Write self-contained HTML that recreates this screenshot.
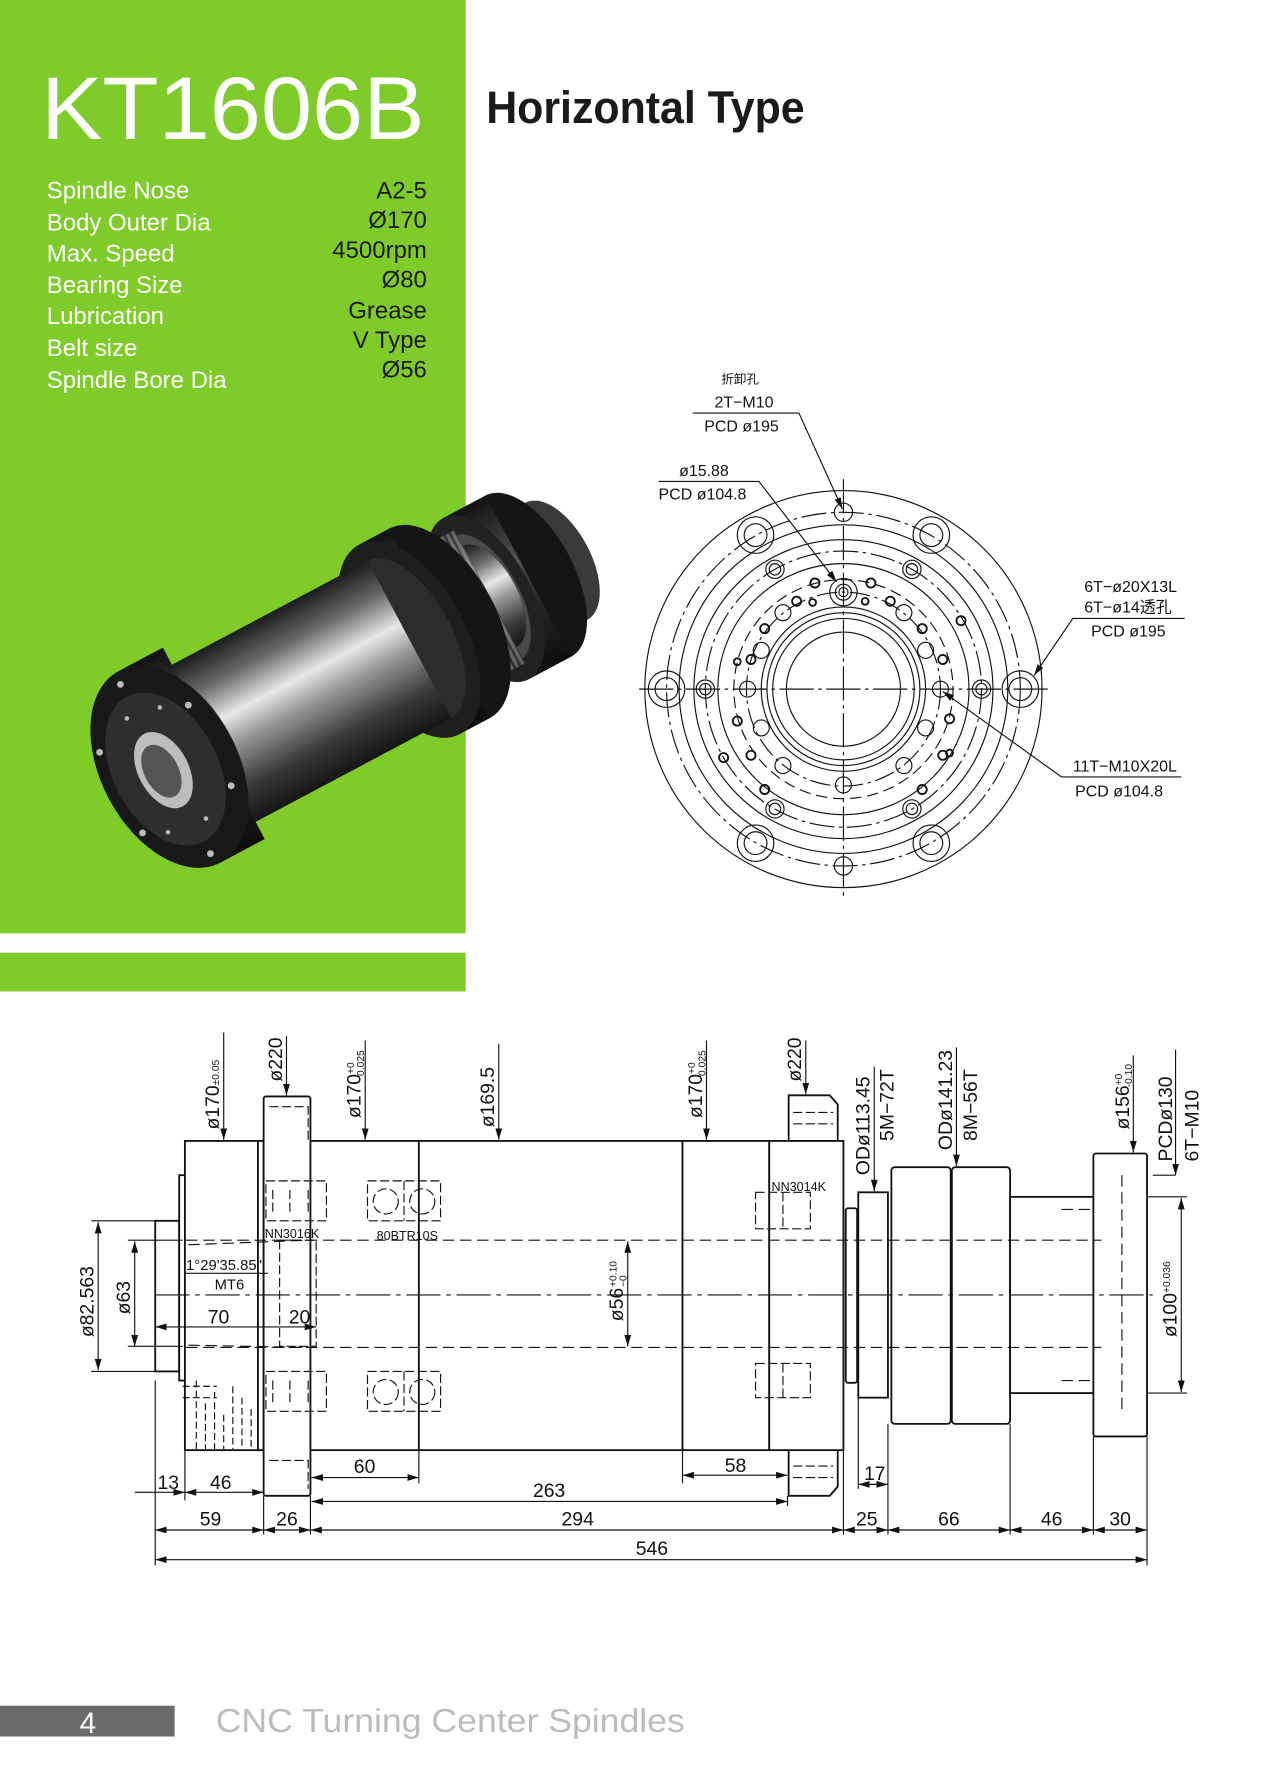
<!DOCTYPE html>
<html><head><meta charset="utf-8"><style>
html,body{margin:0;padding:0;background:#fff;}
svg{display:block}
text{font-family:"Liberation Sans","Noto Sans CJK SC",sans-serif}
.d{font-family:"Liberation Sans Narrow","Liberation Sans","Noto Sans CJK SC",sans-serif;fill:#111}
</style></head><body>
<svg width="1276" height="1789" viewBox="0 0 1118 1568" preserveAspectRatio="none" xmlns="http://www.w3.org/2000/svg">
<defs>
<marker id="a" viewBox="0 0 10 6" refX="10" refY="3" markerWidth="10" markerHeight="6" orient="auto-start-reverse" markerUnits="userSpaceOnUse"><path d="M0,0L10,3L0,6z" fill="#111"/></marker>
<linearGradient id="m" x1="0" y1="0" x2="0" y2="1">
<stop offset="0" stop-color="#1c1c1c"/><stop offset=".2" stop-color="#6a6a6a"/><stop offset=".4" stop-color="#e8e8e8"/><stop offset=".55" stop-color="#9a9a9a"/><stop offset=".8" stop-color="#3a3a3a"/><stop offset="1" stop-color="#151515"/></linearGradient>
<linearGradient id="dk" x1="0" y1="0" x2="0" y2="1">
<stop offset="0" stop-color="#111"/><stop offset=".4" stop-color="#555"/><stop offset=".6" stop-color="#2a2a2a"/><stop offset="1" stop-color="#0d0d0d"/></linearGradient>
<pattern id="g" width="5" height="10" patternUnits="userSpaceOnUse"><rect width="5" height="10" fill="#9a9a9a"/><rect width="2" height="10" fill="#3a3a3a"/></pattern>
</defs>

<rect x="0" y="0" width="408" height="818" fill="#7ecb29"/>
<rect x="0" y="835" width="408" height="34" fill="#7ecb29"/>
<text x="36" y="122" font-size="78" fill="#fff" textLength="336" lengthAdjust="spacingAndGlyphs">KT1606B</text>
<text x="426" y="108" font-size="40" font-weight="bold" fill="#1a1a1a" style="font-family:'Liberation Sans Narrow','Liberation Sans',sans-serif" textLength="279" lengthAdjust="spacingAndGlyphs">Horizontal Type</text>
<g font-size="21" fill="#fff">
<text x="41" y="174">Spindle Nose</text><text x="41" y="202">Body Outer Dia</text><text x="41" y="229">Max. Speed</text><text x="41" y="257">Bearing Size</text><text x="41" y="284">Lubrication</text><text x="41" y="312">Belt size</text><text x="41" y="340">Spindle Bore Dia</text>
</g>
<g font-size="21" fill="#1a1a1a" text-anchor="end">
<text x="374" y="174">A2-5</text><text x="374" y="200">Ø170</text><text x="374" y="226">4500rpm</text><text x="374" y="252">Ø80</text><text x="374" y="279">Grease</text><text x="374" y="305">V Type</text><text x="374" y="331">Ø56</text>
</g>

<!-- spindle photo -->
<g transform="translate(318,582) rotate(-28)">
<!-- rear end -->
<ellipse cx="192" cy="0" rx="30" ry="58" fill="#3a3a3a"/>
<rect x="160" y="-58" width="32" height="116" fill="url(#m)"/>
<!-- rear flange -->
<ellipse cx="164" cy="0" rx="40" ry="80" fill="#151515"/>
<rect x="122" y="-80" width="42" height="160" fill="url(#dk)"/>
<ellipse cx="122" cy="0" rx="40" ry="80" fill="#222"/>
<ellipse cx="122" cy="0" rx="30" ry="62" fill="#4a4a4a"/>
<ellipse cx="126" cy="0" rx="24" ry="50" fill="url(#m)"/>
<!-- gear -->
<rect x="72" y="-66" width="54" height="132" fill="url(#g)"/>
<rect x="72" y="-66" width="54" height="132" fill="url(#m)" opacity=".45"/>
<!-- mid flange -->
<ellipse cx="76" cy="0" rx="50" ry="94" fill="#151515"/>
<rect x="46" y="-94" width="30" height="188" fill="url(#dk)"/>
<ellipse cx="46" cy="0" rx="50" ry="94" fill="#1e1e1e"/>
<ellipse cx="46" cy="0" rx="38" ry="78" fill="#2c2c2c"/>
<!-- body -->
<rect x="-150" y="-78" width="196" height="156" fill="url(#m)"/>
<!-- front flange -->
<rect x="-192" y="-95" width="44" height="190" fill="url(#dk)"/>
<ellipse cx="-192" cy="0" rx="60" ry="95" fill="#181818"/>
<ellipse cx="-196" cy="0" rx="46" ry="72" fill="#2e2e2e"/>
<ellipse cx="-198" cy="0" rx="22" ry="36" fill="#bdbdbd"/>
<ellipse cx="-200" cy="0" rx="15" ry="25" fill="#555"/>
<g fill="#bbb"><circle cx="-196" cy="-84" r="3"/><circle cx="-196" cy="84" r="3"/><circle cx="-240" cy="-40" r="3"/><circle cx="-240" cy="40" r="3"/><circle cx="-152" cy="-40" r="3"/><circle cx="-152" cy="40" r="3"/><circle cx="-205" cy="-55" r="2"/><circle cx="-185" cy="55" r="2"/><circle cx="-220" cy="50" r="2"/><circle cx="-175" cy="-50" r="2"/></g>
</g>

<!-- front view -->
<g fill="none" stroke="#111" stroke-width="1">
<circle cx="739" cy="604" r="174"/>
<circle cx="739" cy="604" r="155" stroke-dasharray="22 4 3 4"/>
<circle cx="739" cy="604" r="144"/>
<circle cx="739" cy="604" r="131"/>
<circle cx="739" cy="604" r="121" stroke-dasharray="22 4 3 4"/>
<circle cx="739" cy="604" r="110"/>
<circle cx="739" cy="604" r="96" stroke-dasharray="10 5"/>
<circle cx="739" cy="604" r="85" stroke-dasharray="18 4 3 4"/>
<circle cx="739" cy="604" r="72"/>
<circle cx="739" cy="604" r="67"/>
<circle cx="739" cy="604" r="62"/>
<circle cx="739" cy="604" r="50"/>
<path d="M560,604H918M739,420V788" stroke-dasharray="30 4 3 4"/>
<g>
<circle cx="894" cy="604" r="16"/><circle cx="894" cy="604" r="10"/>
<circle cx="584" cy="604" r="16"/><circle cx="584" cy="604" r="10"/>
<circle cx="816" cy="469" r="16"/><circle cx="816" cy="469" r="10"/>
<circle cx="662" cy="469" r="16"/><circle cx="662" cy="469" r="10"/>
<circle cx="816" cy="739" r="16"/><circle cx="816" cy="739" r="10"/>
<circle cx="662" cy="739" r="16"/><circle cx="662" cy="739" r="10"/>
<circle cx="739" cy="449" r="8"/><circle cx="739" cy="759" r="8"/>
<circle cx="799" cy="499" r="8"/><circle cx="799" cy="499" r="5"/>
<circle cx="679" cy="499" r="8"/><circle cx="679" cy="499" r="5"/>
<circle cx="799" cy="709" r="8"/><circle cx="799" cy="709" r="5"/>
<circle cx="679" cy="709" r="8"/><circle cx="679" cy="709" r="5"/>
<circle cx="618" cy="604" r="8"/><circle cx="618" cy="604" r="5"/>
<circle cx="860" cy="604" r="8"/><circle cx="860" cy="604" r="5"/>
<circle cx="739" cy="519" r="12"/><circle cx="739" cy="519" r="7"/><circle cx="739" cy="519" r="4"/>
<circle cx="739" cy="688" r="7"/><circle cx="824" cy="604" r="7"/><circle cx="655" cy="604" r="7"/>
<circle cx="686" cy="537" r="7"/><circle cx="792" cy="537" r="7"/><circle cx="686" cy="671" r="7"/><circle cx="792" cy="671" r="7"/>
<circle cx="667" cy="570" r="7"/><circle cx="811" cy="570" r="7"/><circle cx="667" cy="638" r="7"/><circle cx="811" cy="638" r="7"/>
</g>
<g stroke-width="1.6">
<circle cx="714" cy="511" r="4"/><circle cx="763" cy="511" r="4"/><circle cx="698" cy="527" r="4"/><circle cx="780" cy="527" r="4"/>
<circle cx="670" cy="551" r="4"/><circle cx="808" cy="551" r="4"/><circle cx="658" cy="578" r="4"/><circle cx="826" cy="578" r="4"/>
<circle cx="646" cy="632" r="4"/><circle cx="832" cy="630" r="4"/><circle cx="658" cy="662" r="4"/><circle cx="826" cy="662" r="4"/>
<circle cx="670" cy="692" r="4"/><circle cx="808" cy="692" r="4"/><circle cx="634" cy="664" r="4"/><circle cx="842" cy="544" r="4"/>
<circle cx="646" cy="580" r="3"/><circle cx="712" cy="528" r="3"/><circle cx="758" cy="527" r="3"/><circle cx="832" cy="660" r="3"/>
</g>
<path d="M607,362H700L738,446" marker-end="url(#a)"/>
<path d="M577,422H665L733,510" marker-end="url(#a)"/>
<path d="M1038,542H940L906,592" marker-end="url(#a)"/>
<path d="M1035,681H930L826,606" marker-end="url(#a)"/>
</g>
<g class="d" font-size="14">
<text x="632" y="336" font-size="11">折卸孔</text>
<text x="626" y="357">2T−M10</text>
<text x="617" y="378">PCD  ø195</text>
<text x="595" y="417">ø15.88</text>
<text x="577" y="438">PCD  ø104.8</text>
<text x="950" y="519">6T−ø20X13L</text>
<text x="950" y="537">6T−ø14透孔</text>
<text x="956" y="558">PCD  ø195</text>
<text x="940" y="676">11T−M10X20L</text>
<text x="942" y="698">PCD  ø104.8</text>
</g>

<!-- side view -->
<g fill="#fff" stroke="#111" stroke-width="1.6">
<rect x="136" y="1070" width="21" height="132"/>
<rect x="157" y="1030" width="6" height="180"/>
<rect x="162" y="1000" width="64" height="271"/>
<rect x="226" y="1000" width="5" height="271"/>
<rect x="231" y="961" width="41" height="350" rx="2"/>
<rect x="272" y="1000" width="95" height="271"/>
<rect x="367" y="1000" width="231" height="271"/>
<rect x="598" y="1000" width="76" height="271"/>
<path d="M691,1000V960H727L734,968V1000Z"/>
<path d="M691,1271V1311H727L734,1303V1271Z"/>
<rect x="674" y="1000" width="65" height="271"/>
<rect x="741" y="1059" width="10" height="153" rx="2"/>
<rect x="752" y="1045" width="26" height="180"/>
<rect x="781" y="1023" width="52" height="225" rx="3"/>
<rect x="834" y="1023" width="51" height="225" rx="3"/>
<rect x="885" y="1049" width="73" height="172"/>
<rect x="958" y="1011" width="47" height="248" rx="2"/>
</g>
<g fill="none" stroke="#111" stroke-width="1">
<path d="M136,1135H1010" stroke-dasharray="30 5 4 5"/>
<path d="M163,1087H965M163,1181H965M165,1091L270,1087M165,1179L270,1181" stroke-dasharray="10 5"/>
<path d="M233,1035H286V1070H233ZM239,1043V1062M254,1043V1062M270,1043V1062M233,1202H286V1237H233ZM239,1210V1230M254,1210V1230M270,1210V1230" stroke-dasharray="8 3"/>
<path d="M322,1035H386V1070H322ZM354,1035V1070M322,1202H386V1237H322ZM354,1202V1237" stroke-dasharray="8 3"/>
<circle cx="338" cy="1053" r="11" stroke-dasharray="8 3"/><circle cx="370" cy="1053" r="11" stroke-dasharray="8 3"/>
<circle cx="338" cy="1220" r="11" stroke-dasharray="8 3"/><circle cx="370" cy="1220" r="11" stroke-dasharray="8 3"/>
<path d="M662,1045H710V1077H662ZM686,1045V1077M662,1195H710V1225H662ZM686,1195V1225" stroke-dasharray="8 3"/>
<path d="M245,1087H277V1180H245Z" stroke-dasharray="8 3"/>
<path d="M236,970H270V1000M236,1280H270V1305M695,975H730M695,985H730M695,1285H730M695,1295H730" stroke-dasharray="8 3"/>
<path d="M172,1210V1270M180,1230V1270M188,1220V1270M196,1240V1270M204,1215V1270M212,1225V1270M220,1235V1270M160,1215H190M160,1225H190" stroke-dasharray="6 3"/>
<path d="M983,1030V1240M930,1060H958M930,1210H958" stroke-dasharray="10 5"/>
<g marker-end="url(#a)">
<path d="M196,905V999"/><path d="M251,908V960"/><path d="M320,912V999"/><path d="M437,915V999"/><path d="M619,912V999"/><path d="M706,912V959"/>
<path d="M766,935V1044"/><path d="M838,918V1022"/><path d="M993,925V1010"/><path d="M1030,920V1030"/>
<path d="M86,1136V1071"/><path d="M86,1136V1201"/><path d="M118,1136V1088"/><path d="M118,1136V1180"/>
<path d="M550,1136V1088"/><path d="M550,1136V1180"/><path d="M1035,1136V1050"/><path d="M1035,1136V1220"/>
</g>
<path d="M80,1070H136M80,1202H136M112,1087H160M112,1180H160M1005,1049H1040M1005,1221H1040M1010,1030H1030"/>
<path d="M136,1210V1372M162,1271V1315M231,1311V1345M272,1311V1345M367,1271V1300M598,1271V1300M690,1311V1320M739,1271V1345M752,1225V1305M778,1248V1345M885,1248V1345M958,1259V1345M1005,1259V1372"/>
<path d="M136,1163H245M245,1163H277" marker-start="url(#a)" marker-end="url(#a)"/>
<path d="M118,1308H136M136,1308H162" marker-end="url(#a)"/>
<path d="M162,1308H231" marker-start="url(#a)" marker-end="url(#a)"/>
<path d="M273,1295H367" marker-start="url(#a)" marker-end="url(#a)"/>
<path d="M598,1293H690" marker-start="url(#a)" marker-end="url(#a)"/>
<path d="M752,1301H778" marker-start="url(#a)" marker-end="url(#a)"/>
<path d="M273,1316H690" marker-start="url(#a)" marker-end="url(#a)"/>
<path d="M136,1341H231" marker-start="url(#a)" marker-end="url(#a)"/>
<path d="M231,1341H272" marker-start="url(#a)" marker-end="url(#a)"/>
<path d="M272,1341H739" marker-start="url(#a)" marker-end="url(#a)"/>
<path d="M739,1341H778" marker-start="url(#a)" marker-end="url(#a)"/>
<path d="M778,1341H885" marker-start="url(#a)" marker-end="url(#a)"/>
<path d="M885,1341H958" marker-start="url(#a)" marker-end="url(#a)"/>
<path d="M958,1341H1005" marker-start="url(#a)" marker-end="url(#a)"/>
<path d="M136,1367H1005" marker-start="url(#a)" marker-end="url(#a)"/>
</g>
<g class="d" font-size="17">
<text transform="translate(192,990) rotate(-90)">ø170<tspan font-size="9">±0.05</tspan></text>
<text transform="translate(247,948) rotate(-90)">ø220</text>
<text transform="translate(316,980) rotate(-90)">ø170<tspan font-size="9" dy="-6">+0</tspan><tspan font-size="9" dx="-12" dy="9">0.025</tspan></text>
<text transform="translate(433,988) rotate(-90)">ø169.5</text>
<text transform="translate(615,980) rotate(-90)">ø170<tspan font-size="9" dy="-6">+0</tspan><tspan font-size="9" dx="-12" dy="9">0.025</tspan></text>
<text transform="translate(702,948) rotate(-90)">ø220</text>
<text transform="translate(762,1030) rotate(-90)">ODø113.45</text>
<text transform="translate(783,1000) rotate(-90)">5M−72T</text>
<text transform="translate(834,1008) rotate(-90)">ODø141.23</text>
<text transform="translate(856,1000) rotate(-90)">8M−56T</text>
<text transform="translate(989,990) rotate(-90)">ø156<tspan font-size="9" dy="-6">+0</tspan><tspan font-size="9" dx="-12" dy="9">-0.10</tspan></text>
<text transform="translate(1027,1018) rotate(-90)">PCDø130</text>
<text transform="translate(1050,1018) rotate(-90)">6T−M10</text>
<text transform="translate(82,1172) rotate(-90)">ø82.563</text>
<text transform="translate(114,1152) rotate(-90)">ø63</text>
<text transform="translate(546,1158) rotate(-90)">ø56</text>
<text transform="translate(540,1128) rotate(-90)" font-size="9">+0.10</text>
<text transform="translate(549,1128) rotate(-90)" font-size="9">−0</text>
<text transform="translate(1031,1172) rotate(-90)">ø100<tspan font-size="9" dy="-6">+0.036</tspan></text>
<text x="182" y="1160">70</text><text x="253" y="1160">20</text>
<text x="138" y="1305">13</text><text x="184" y="1305">46</text>
<text x="310" y="1291">60</text><text x="635" y="1290">58</text><text x="757" y="1297">17</text>
<text x="467" y="1312">263</text>
<text x="175" y="1337">59</text><text x="242" y="1337">26</text><text x="492" y="1337">294</text>
<text x="750" y="1337">25</text><text x="822" y="1337">66</text><text x="912" y="1337">46</text><text x="972" y="1337">30</text>
<text x="557" y="1363">546</text>
<text x="163" y="1113" font-size="13">1°29'35.85"</text>
<text x="188" y="1130" font-size="13">MT6</text>
<text x="232" y="1085" font-size="11">NN3016K</text>
<text x="330" y="1087" font-size="11">80BTR10S</text>
<text x="676" y="1044" font-size="11">NN3014K</text>
</g>
<path d="M163,1116H235" stroke="#111" fill="none"/>

<rect x="0" y="1495" width="153" height="27" fill="#6b6b6b"/>
<text x="77" y="1519" font-size="26" fill="#fff" text-anchor="middle">4</text>
<text x="189" y="1518" font-size="29" fill="#bcbcbc" style="font-family:'Liberation Sans Narrow','Liberation Sans',sans-serif" textLength="411" lengthAdjust="spacingAndGlyphs">CNC Turning Center Spindles</text>
</svg>
</body></html>
